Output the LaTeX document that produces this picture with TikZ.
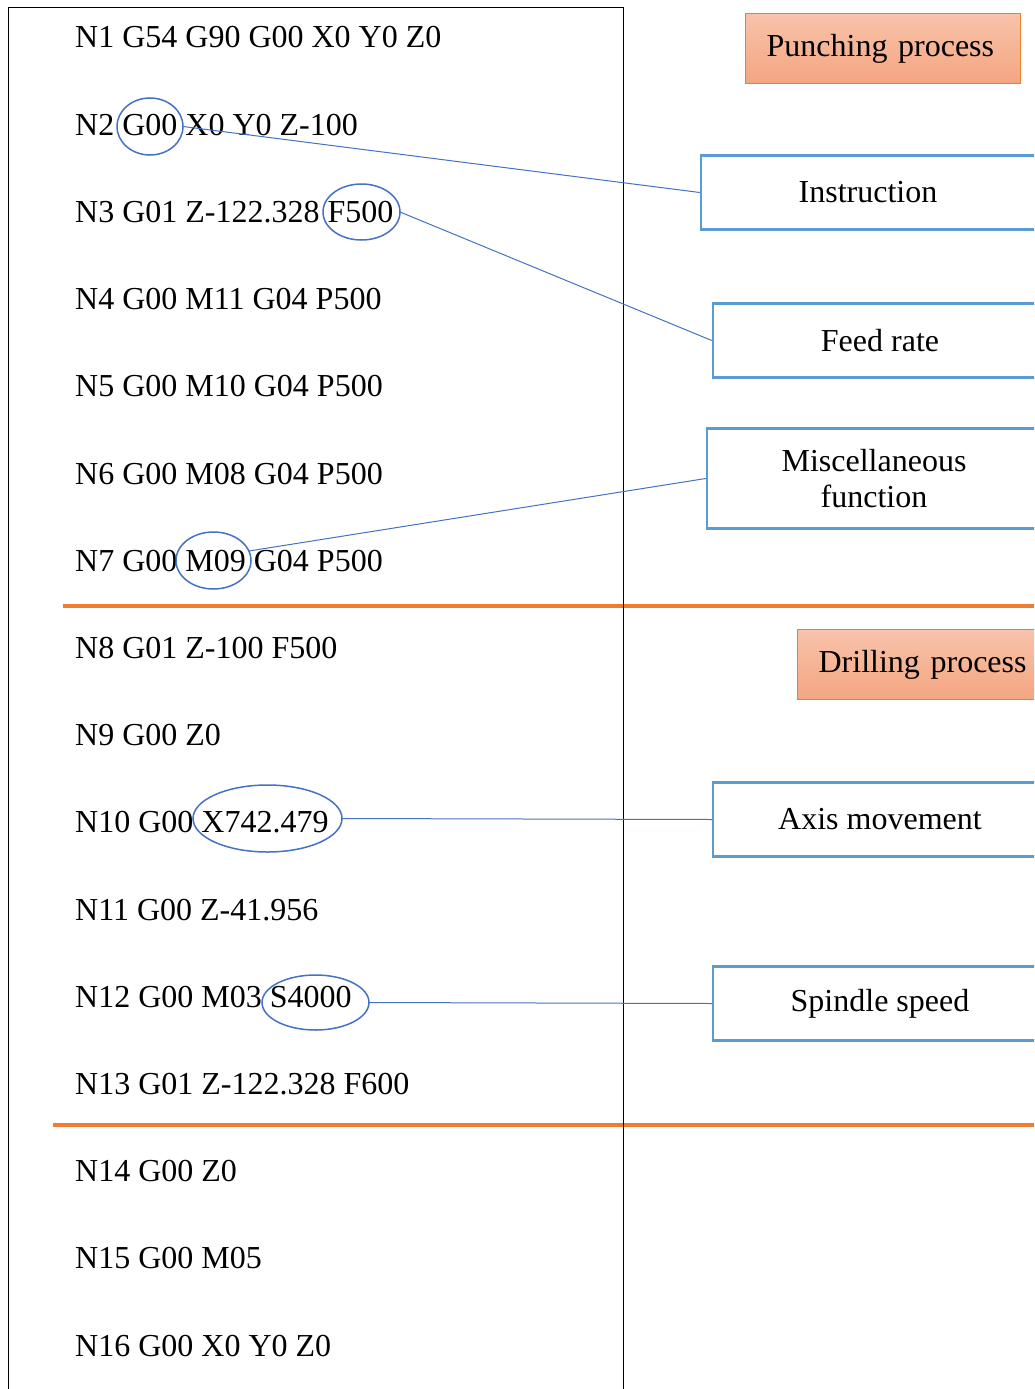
\documentclass[tikz,border=0pt]{standalone}
\usepackage{fontspec}
\setmainfont{Liberation Serif}
\usetikzlibrary{shapes.geometric}
\definecolor{oline}{HTML}{ED7D31}
\definecolor{bbox}{HTML}{5B9BD5}
\definecolor{bell}{HTML}{4472C4}
\definecolor{ptop}{HTML}{F8C3AA}
\definecolor{pbot}{HTML}{F4A581}
\begin{document}
\begin{tikzpicture}[x=1pt,y=-1pt, font=\fontsize{32pt}{36pt}\selectfont,
 code/.style={anchor=base west, inner sep=0pt},
 ell/.style={draw=bell, line width=1.5pt, ellipse, inner sep=0pt, outer sep=0pt},
 tag/.style={draw=bbox, line width=2.5pt, minimum width=334pt, minimum height=74pt, align=center, inner sep=0pt},
 proc/.style={draw=oline, line width=1.2pt, top color=ptop, bottom color=pbot, anchor=north west, minimum height=70pt, text width=233pt, align=left, inner xsep=21pt, inner ysep=0pt},
 link/.style={draw=bell, line width=1pt},
 sep/.style={draw=oline, line width=3.5pt},
 frame/.style={draw=black, line width=1pt}]
\useasboundingbox (0,0) rectangle (1034,1389);
\clip (0,0) rectangle (1034,1389);
\fill[white] (0,0) rectangle (1034,1389);

% separators
\draw[sep] (63,606) -- (1034,606);
\draw[sep] (53,1125) -- (1034,1125);

% frame
\draw[frame] (8,1389) -- (8,8) -- (623,8) -- (623,1389);

% code lines
\node[code] (l1)  at (75,48)     {N1 G54 G90 G00 X0 Y0 Z0};
\node[code] (l2)  at (75,135.2)  {N2 G00 X0 Y0 Z-100};
\node[code] (l3)  at (75,222.4)  {N3 G01 Z-122.328 F500};
\node[code] (l4)  at (75,309.6)  {N4 G00 M11 G04 P500};
\node[code] (l5)  at (75,396.8)  {N5 G00 M10 G04 P500};
\node[code] (l6)  at (75,484)    {N6 G00 M08 G04 P500};
\node[code] (l7)  at (75,571.2)  {N7 G00 M09 G04 P500};
\node[code] (l8)  at (75,658.4)  {N8 G01 Z-100 F500};
\node[code] (l9)  at (75,745.6)  {N9 G00 Z0};
\node[code] (l10) at (75,832.8)  {N10 G00 X742.479};
\node[code] (l11) at (75,920)    {N11 G00 Z-41.956};
\node[code] (l12) at (75,1007.2) {N12 G00 M03 S4000};
\node[code] (l13) at (75,1094.4) {N13 G01 Z-122.328 F600};
\node[code] (l14) at (75,1181.6) {N14 G00 Z0};
\node[code] (l15) at (75,1268.8) {N15 G00 M05};
\node[code] (l16) at (75,1356)   {N16 G00 X0 Y0 Z0};

% ellipses
\node[ell, minimum width=66pt,  minimum height=57pt] (g00)   at (150,126.5)  {};
\node[ell, minimum width=77pt,  minimum height=56pt] (f500)  at (361.5,212)  {};
\node[ell, minimum width=75pt,  minimum height=57pt] (m09)   at (213.5,560.5) {};
\node[ell, minimum width=149pt, minimum height=67pt] (x742)  at (267.5,818.5) {};
\node[ell, minimum width=107pt, minimum height=55pt] (s4000) at (315.5,1002.5) {};

% process boxes
\node[proc] (punch) at (745,13)  {Punching process};
\node[proc] (drill) at (797,629) {Drilling process};

% label boxes
\node[tag, minimum width=350pt] (instr) at (876,192.5) {Instruction\hspace*{16pt}};
\node[tag] (feed)    at (880,340.5) {Feed rate};
\node[tag, minimum height=100pt] (misc) at (874,478.5) {Miscellaneous\\function};
\node[tag] (axis)    at (880,819.5) {Axis movement};
\node[tag] (spindle) at (880,1003.5) {Spindle speed};

% connectors
\draw[link] (g00.east) -- (instr.west);
\draw[link] (f500.east) -- (feed.west);
\draw[link] (m09.15) -- (misc.west);
\draw[link] (x742.east) -- (axis.west);
\draw[link] (s4000.east) -- (spindle.west);
\end{tikzpicture}
\end{document}
